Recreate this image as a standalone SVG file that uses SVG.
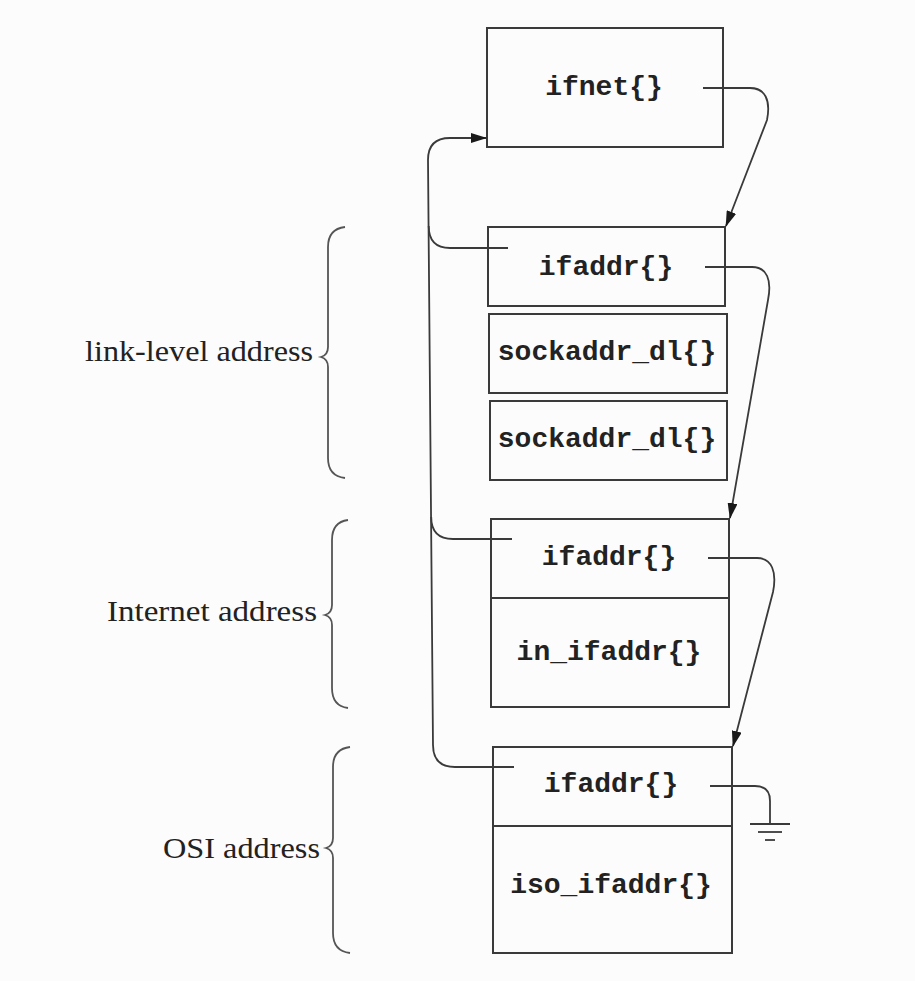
<svg xmlns="http://www.w3.org/2000/svg" width="915" height="981" viewBox="0 0 915 981">
<style>
.box{fill:none;stroke:#3a3a3a;stroke-width:2}
.t{font-family:"Liberation Mono","Courier New",monospace;font-weight:bold;font-size:28px;fill:#222;text-anchor:middle}
.lbl{font-family:"Liberation Serif","Times New Roman",serif;font-size:30px;fill:#222}
.ln{fill:none;stroke:#3a3a3a;stroke-width:1.8}
.br{fill:none;stroke:#555;stroke-width:1.8}
</style>
<defs>
<marker id="ah" viewBox="0 0 16 10" refX="15" refY="5" markerWidth="16" markerHeight="10" markerUnits="userSpaceOnUse" orient="auto">
<path d="M0,0 L16,5 L0,10 Z" fill="#1a1a1a"/>
</marker>
</defs>
<rect width="915" height="981" fill="#fcfcfc"/>

<g id="ifnet">
<rect class="box" x="487" y="28" width="236" height="119"/>
<text class="t" x="604" y="95">ifnet{}</text>
</g>
<g id="ifaddr1">
<rect class="box" x="488" y="227" width="237" height="79"/>
<text class="t" x="606" y="275">ifaddr{}</text>
</g>
<g id="sockaddr_dl1">
<rect class="box" x="489" y="314" width="238" height="79"/>
<text class="t" x="607" y="360">sockaddr_dl{}</text>
</g>
<g id="sockaddr_dl2">
<rect class="box" x="490" y="401" width="237" height="79"/>
<text class="t" x="607" y="447">sockaddr_dl{}</text>
</g>
<g id="ifaddr2">
<rect class="box" x="491" y="519" width="238" height="188"/>
<line class="box" x1="491" y1="598" x2="729" y2="598"/>
<text class="t" x="609" y="565">ifaddr{}</text>
<text class="t" x="609" y="660">in_ifaddr{}</text>
</g>
<g id="ifaddr3">
<rect class="box" x="493" y="747" width="239" height="206"/>
<line class="box" x1="493" y1="826" x2="732" y2="826"/>
<text class="t" x="611" y="792">ifaddr{}</text>
<text class="t" x="611" y="893">iso_ifaddr{}</text>
</g>

<g id="labels">
<text class="lbl" x="85" y="361" textLength="228" lengthAdjust="spacingAndGlyphs">link-level address</text>
<path class="br" d="M345,227 Q328,229 328,247 L328,347 Q328,355 321,357 Q328,359 328,367 L328,458 Q328,476 345,478"/>
<text class="lbl" x="107" y="621" textLength="210" lengthAdjust="spacingAndGlyphs">Internet address</text>
<path class="br" d="M348,520 Q332,522 332,540 L332,605 Q332,613 325,615 Q332,617 332,625 L332,688 Q332,706 348,708"/>
<text class="lbl" x="163" y="858" textLength="157" lengthAdjust="spacingAndGlyphs">OSI address</text>
<path class="br" d="M350,747 Q333,749 333,767 L333,838 Q333,846 326,848 Q333,850 333,858 L333,933 Q333,951 350,953"/>
</g>

<g id="connectors">
<path class="ln" d="M703,88 L750,88 C765,88 771,100 767,120 L726,226" marker-end="url(#ah)"/>
<path class="ln" d="M705,267 L752,267 C767,267 772,280 768,300 L730,518" marker-end="url(#ah)"/>
<path class="ln" d="M708,558 L757,558 C772,558 777,572 773,592 L733,746" marker-end="url(#ah)"/>
<path class="ln" d="M710,786 L755,786 Q770,786 770,801 L770,824"/>
<line class="ln" x1="750" y1="824" x2="790" y2="824"/>
<line class="ln" x1="758" y1="832" x2="782" y2="832"/>
<line class="ln" x1="765" y1="840" x2="775" y2="840"/>
<path class="ln" d="M514,767 L455,767 Q433,767 433,745 L428,160 Q428,138 450,138 L486,138" marker-end="url(#ah)"/>
<path class="ln" d="M508,248 L450,248 Q428.7,248 428.7,226"/>
<path class="ln" d="M512,539 L453,539 Q431.2,539 431.2,517"/>
</g>
</svg>
